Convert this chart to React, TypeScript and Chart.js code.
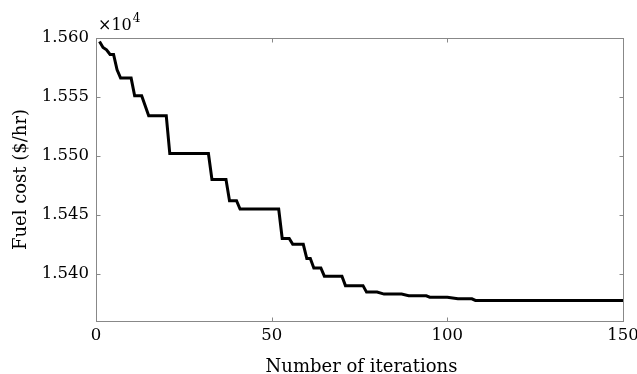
import React, { useEffect, useRef } from "react";
import { Chart, registerables } from "chart.js";

Chart.register(...registerables);

// Breakpoints of the convergence curve (iteration, fuel cost in $/hr)
const iterations = [1, 2, 3, 4, 5, 6, 7, 10, 11, 13, 15, 20, 21, 32, 33, 37, 38, 40, 41, 52, 53, 55, 56, 59, 60, 61, 62, 64, 65, 70, 71, 76, 77, 80, 82, 87, 89, 94, 95, 100, 103, 107, 108, 150];
const fuelCost = [15597, 15592, 15590, 15586, 15586, 15573, 15566, 15566, 15551, 15551, 15534, 15534, 15502, 15502, 15480, 15480, 15462, 15462, 15455, 15455, 15430, 15430, 15425, 15425, 15413, 15413, 15405, 15405, 15398, 15398, 15390, 15390, 15384.5, 15384.5, 15382.8, 15382.8, 15381.4, 15381.4, 15380.2, 15380.2, 15378.8, 15378.8, 15377.4, 15377.4];

const xTicks = [0, 50, 100, 150];
const yTicks = [15400, 15450, 15500, 15550, 15600];
const xTitle = "Number of iterations";
const yTitle = "Fuel cost ($/hr)";

const FONT = '"DejaVu Serif", serif';
const AXIS = "#888888";

const framePlugin = {
  id: "frame",
  afterDraw(chart: any) {
    const { ctx, chartArea, scales } = chart;
    const { left, right, top, bottom } = chartArea;
    const L = Math.round(left) + 0.5;
    const R = Math.round(right) + 0.5;
    const T = Math.round(top) + 0.5;
    const B = Math.round(bottom) + 0.5;
    ctx.save();
    ctx.strokeStyle = AXIS;
    ctx.lineWidth = 1;
    ctx.strokeRect(L, T, R - L, B - T);
    const tl = 4;
    ctx.beginPath();
    for (const v of xTicks) {
      const px = Math.round(scales.x.getPixelForValue(v)) + 0.5;
      ctx.moveTo(px, B);
      ctx.lineTo(px, B - tl);
      ctx.moveTo(px, T);
      ctx.lineTo(px, T + tl);
    }
    for (const v of yTicks) {
      const py = Math.round(scales.y.getPixelForValue(v)) + 0.5;
      ctx.moveTo(L, py);
      ctx.lineTo(L + tl, py);
      ctx.moveTo(R, py);
      ctx.lineTo(R - tl, py);
    }
    ctx.stroke();

    ctx.fillStyle = "#000";
    ctx.font = `18px ${FONT}`;
    ctx.textAlign = "center";
    ctx.textBaseline = "middle";
    ctx.fillText(xTitle, (left + right) / 2 + 2, 367);
    ctx.save();
    ctx.translate(21, (top + bottom) / 2);
    ctx.rotate(-Math.PI / 2);
    ctx.fillText(yTitle, 0, 0);
    ctx.restore();

    // exponent label
    ctx.textAlign = "left";
    ctx.textBaseline = "alphabetic";
    ctx.font = `16px ${FONT}`;
    ctx.fillText("\u00d710", left + 2, 30);
    const w = ctx.measureText("\u00d710").width;
    ctx.font = `12px ${FONT}`;
    ctx.fillText("4", left + 2 + w + 1, 22);
    ctx.restore();
  },
};

export default function App() {
  const ref = useRef<HTMLCanvasElement | null>(null);
  useEffect(() => {
    if (!ref.current) return;
    const chart = new Chart(ref.current, {
      type: "line",
      data: {
        datasets: [
          {
            data: iterations.map((it, i) => ({ x: it, y: fuelCost[i] })),
            borderColor: "#000000",
            borderWidth: 3,
            pointRadius: 0,
            tension: 0,
            fill: false,
          },
        ],
      },
      options: {
        responsive: false,
        animation: false,
        devicePixelRatio: 1,
        layout: { autoPadding: false, padding: { top: 38, right: 14, left: 0, bottom: 0 } },
        plugins: { legend: { display: false }, tooltip: { enabled: false } },
        scales: {
          x: {
            type: "linear",
            min: 0,
            max: 150,
            grid: { display: false, drawTicks: false },
            border: { display: false },
            afterBuildTicks: (s: any) => {
              s.ticks = xTicks.map((v) => ({ value: v }));
            },
            afterFit: (s: any) => {
              s.height = 53;
              s.paddingLeft = 0;
              s.paddingRight = 0;
            },
            ticks: {
              padding: 5,
              color: "#000",
              font: { family: FONT, size: 16.5 },
              maxRotation: 0,
            },
          },
          y: {
            type: "linear",
            min: 15360,
            max: 15600,
            grid: { display: false, drawTicks: false },
            border: { display: false },
            afterBuildTicks: (s: any) => {
              s.ticks = yTicks.map((v) => ({ value: v }));
            },
            afterFit: (s: any) => {
              s.width = 96;
              s.paddingTop = 0;
              s.paddingBottom = 0;
            },
            ticks: {
              padding: 7,
              color: "#000",
              font: { family: FONT, size: 16.5 },
              callback: (v: any) => (Number(v) / 1e4).toFixed(3),
            },
          },
        },
      },
      plugins: [framePlugin],
    });
    return () => chart.destroy();
  }, []);
  return (
    <div style={{ position: "absolute", left: 0, top: 0, width: 637, height: 374, background: "#fff" }}>
      <canvas ref={ref} width={637} height={374} style={{ display: "block" }} />
    </div>
  );
}
